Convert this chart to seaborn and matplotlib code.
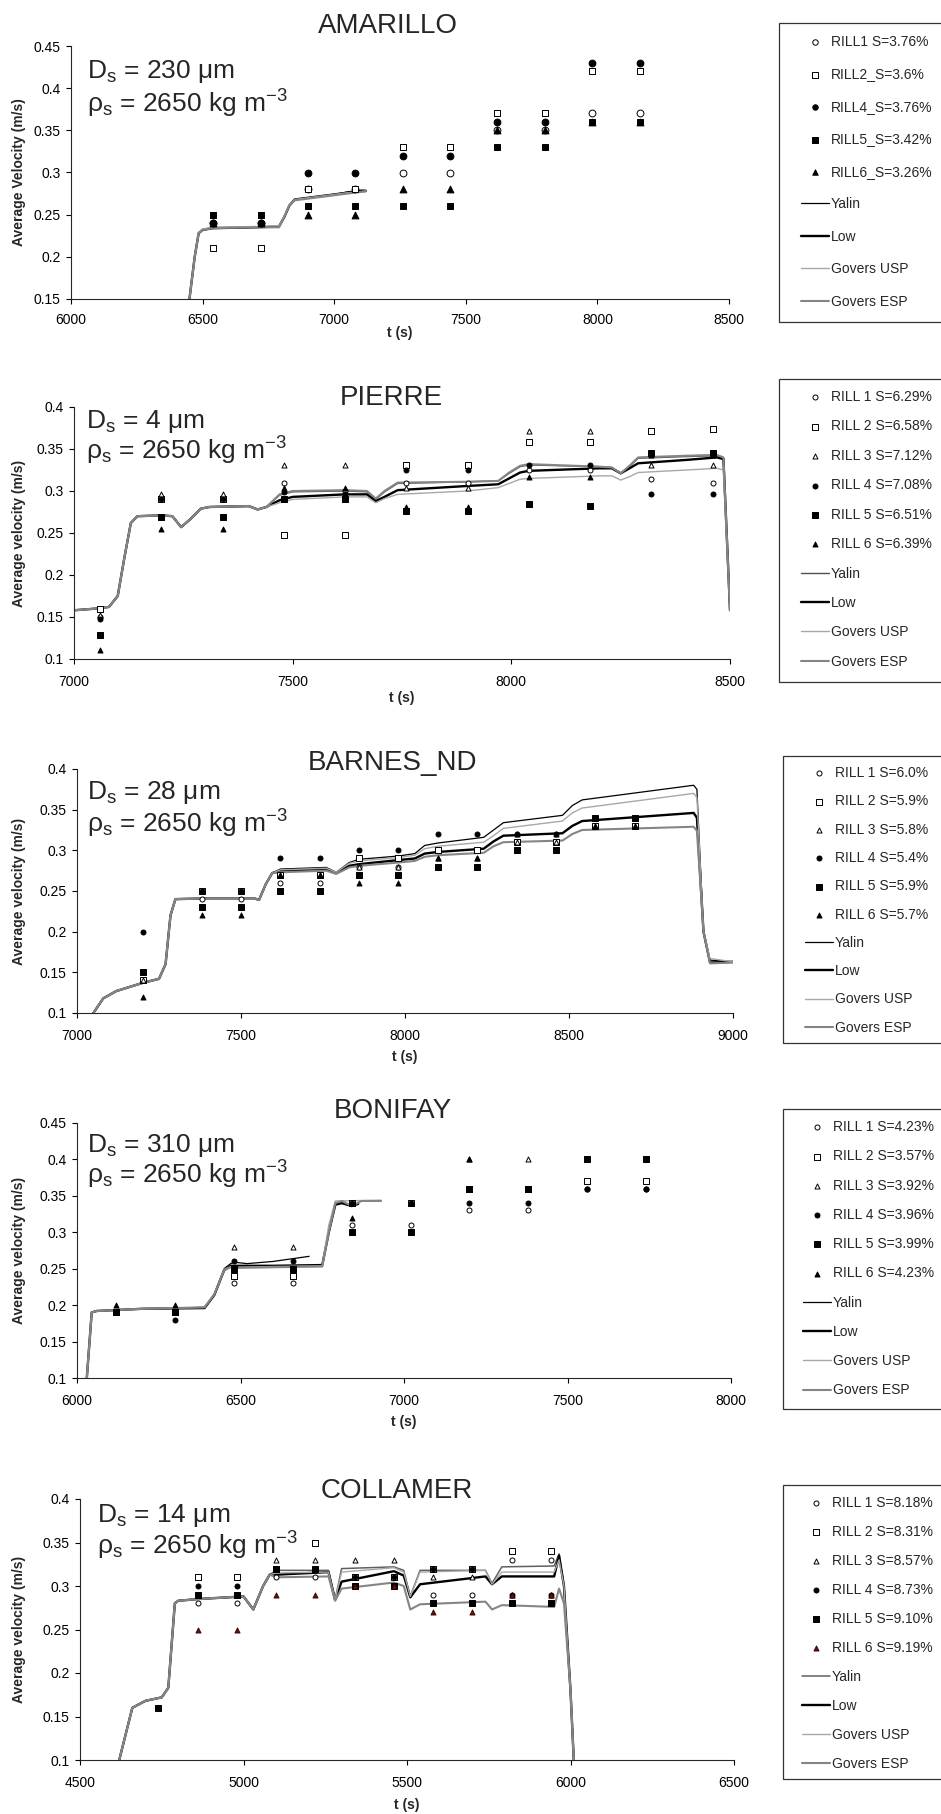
import numpy as np
import seaborn as sns
import matplotlib.pyplot as plt
from matplotlib import ticker
from matplotlib.patches import Rectangle

nan = np.nan

# ---------------- AMARILLO ----------------
am_t = [6540, 6720, 6900, 7080, 7260, 7440, 7620, 7800, 7980, 8160]
am_rill1 = [0.24, 0.24, 0.28, 0.28, 0.30, 0.30, 0.35, 0.35, 0.37, 0.37]
am_rill2 = [0.21, 0.21, 0.28, 0.28, 0.33, 0.33, 0.37, 0.37, 0.42, 0.42]
am_rill4 = [0.24, 0.24, 0.30, 0.30, 0.32, 0.32, 0.36, 0.36, 0.43, 0.43]
am_rill5 = [0.25, 0.25, 0.26, 0.26, 0.26, 0.26, 0.33, 0.33, 0.36, 0.36]
am_rill6 = [0.24, 0.24, 0.25, 0.25, 0.28, 0.28, 0.35, 0.35, 0.36, 0.36]
am_labels = ["RILL1 S=3.76%", "RILL2_S=3.6%", "RILL4_S=3.76%", "RILL5_S=3.42%", "RILL6_S=3.26%"]
am_ct = [6450, 6470, 6485, 6500, 6540, 6700, 6790, 6810, 6830, 6850, 6900, 6950, 7000, 7050, 7100, 7120]
am_yalin = [0.15, 0.20, 0.228, 0.232, 0.234, 0.235, 0.236, 0.247, 0.261, 0.268, 0.270, 0.272, 0.274, 0.277, 0.279, 0.279]
am_low = [0.15, 0.20, 0.228, 0.232, 0.234, 0.235, 0.236, 0.247, 0.261, 0.268, 0.270, 0.272, 0.274, 0.276, 0.278, 0.278]
am_usp = [0.15, 0.20, 0.229, 0.233, 0.235, 0.236, 0.237, 0.248, 0.262, 0.268, 0.270, 0.272, 0.274, 0.276, 0.277, 0.278]
am_esp = [0.15, 0.20, 0.228, 0.232, 0.234, 0.235, 0.235, 0.247, 0.261, 0.267, 0.269, 0.271, 0.273, 0.275, 0.277, 0.278]

# ---------------- PIERRE ----------------
pi_t = [7060, 7200, 7340, 7480, 7620, 7760, 7900, 8040, 8180, 8320, 8460]
pi_rill1 = [0.150, 0.292, 0.292, 0.310, 0.300, 0.310, 0.310, 0.325, 0.325, 0.314, 0.310]
pi_rill2 = [0.159, 0.290, 0.290, 0.248, 0.248, 0.331, 0.331, 0.358, 0.358, 0.372, 0.374]
pi_rill3 = [0.152, 0.297, 0.297, 0.331, 0.331, 0.303, 0.303, 0.371, 0.371, 0.331, 0.331]
pi_rill4 = [0.148, 0.290, 0.290, 0.299, 0.297, 0.325, 0.325, 0.331, 0.331, 0.297, 0.297]
pi_rill5 = [0.128, 0.269, 0.269, 0.290, 0.290, 0.276, 0.276, 0.284, 0.282, 0.345, 0.345]
pi_rill6 = [0.111, 0.255, 0.255, 0.303, 0.303, 0.281, 0.281, 0.317, 0.317, 0.343, 0.343]
pi_labels = ["RILL 1 S=6.29%", "RILL 2 S=6.58%", "RILL 3 S=7.12%", "RILL 4 S=7.08%", "RILL 5 S=6.51%", "RILL 6 S=6.39%"]
pi_ct = [7000, 7050, 7080, 7100, 7115, 7130, 7145, 7200, 7225, 7245, 7265, 7290, 7310, 7400, 7420, 7440,
         7470, 7500, 7620, 7670, 7690, 7710, 7740, 7900, 7970, 7995, 8020, 8040, 8200, 8230, 8250, 8270,
         8290, 8400, 8470, 8485, 8500]
pi_yalin = [0.158, 0.160, 0.162, 0.175, 0.220, 0.262, 0.270, 0.271, 0.270, 0.257, 0.266, 0.279, 0.281, 0.282, 0.278, 0.281,
            0.295, 0.299, 0.300, 0.299, 0.290, 0.299, 0.309, 0.311, 0.312, 0.321, 0.329, 0.331, 0.329, 0.328, 0.321, 0.329,
            0.339, 0.341, 0.342, 0.339, 0.158]
pi_low = [0.158, 0.160, 0.162, 0.175, 0.220, 0.262, 0.270, 0.271, 0.270, 0.257, 0.266, 0.279, 0.281, 0.282, 0.278, 0.281,
          0.289, 0.293, 0.296, 0.296, 0.288, 0.293, 0.301, 0.306, 0.308, 0.315, 0.322, 0.324, 0.327, 0.327, 0.321, 0.327,
          0.333, 0.337, 0.340, 0.338, 0.158]
pi_usp = [0.158, 0.160, 0.162, 0.175, 0.220, 0.262, 0.270, 0.271, 0.270, 0.257, 0.266, 0.279, 0.281, 0.282, 0.278, 0.281,
          0.286, 0.290, 0.293, 0.293, 0.286, 0.291, 0.296, 0.300, 0.304, 0.309, 0.314, 0.315, 0.318, 0.318, 0.313, 0.317,
          0.322, 0.325, 0.327, 0.325, 0.158]
pi_esp = [0.158, 0.160, 0.162, 0.175, 0.220, 0.262, 0.270, 0.271, 0.270, 0.257, 0.266, 0.279, 0.281, 0.282, 0.278, 0.281,
          0.296, 0.300, 0.301, 0.300, 0.291, 0.300, 0.310, 0.311, 0.312, 0.322, 0.330, 0.332, 0.329, 0.328, 0.321, 0.330,
          0.340, 0.342, 0.343, 0.340, 0.158]

# ---------------- BARNES_ND ----------------
ba_t = [7200, 7380, 7500, 7620, 7740, 7860, 7980, 8100, 8220, 8340, 8460, 8580, 8700]
ba_rill1 = [0.14, 0.24, 0.24, 0.26, 0.26, 0.28, 0.28, 0.30, 0.30, 0.31, 0.31, 0.33, 0.33]
ba_rill2 = [0.14, 0.25, 0.25, 0.27, 0.27, 0.29, 0.29, 0.30, 0.30, 0.31, 0.31, 0.33, 0.33]
ba_rill3 = [0.14, 0.25, 0.25, 0.27, 0.27, 0.28, 0.28, 0.29, 0.29, 0.31, 0.31, 0.33, 0.33]
ba_rill4 = [0.20, 0.25, 0.25, 0.29, 0.29, 0.30, 0.30, 0.32, 0.32, 0.32, 0.32, 0.34, 0.34]
ba_rill5 = [0.15, 0.23, 0.23, 0.25, 0.25, 0.27, 0.27, 0.28, 0.28, 0.30, 0.30, 0.34, 0.34]
ba_rill6 = [0.12, 0.22, 0.22, 0.27, 0.27, 0.26, 0.26, 0.29, 0.29, 0.32, 0.32, 0.33, 0.33]
ba_labels = ["RILL 1 S=6.0%", "RILL 2 S=5.9%", "RILL 3 S=5.8%", "RILL 4 S=5.4%", "RILL 5 S=5.9%", "RILL 6 S=5.7%"]
ba_ct = [7050, 7080, 7120, 7160, 7200, 7250, 7270, 7285, 7300, 7400, 7540, 7555, 7575, 7595,
         7620, 7760, 7790, 7830, 7860, 7980, 8030, 8060, 8100, 8240, 8270, 8300, 8480, 8510, 8540, 8880,
         8890, 8910, 8930, 9000]
ba_yalin = [0.100, 0.118, 0.127, 0.132, 0.137, 0.142, 0.160, 0.220, 0.240, 0.241, 0.241, 0.239, 0.258, 0.272,
            0.277, 0.279, 0.273, 0.285, 0.289, 0.293, 0.296, 0.306, 0.309, 0.316, 0.325, 0.334, 0.343, 0.355, 0.362, 0.380,
            0.375, 0.200, 0.165, 0.163]
ba_low = [0.100, 0.118, 0.127, 0.132, 0.137, 0.142, 0.160, 0.220, 0.240, 0.241, 0.241, 0.239, 0.258, 0.272,
          0.275, 0.277, 0.272, 0.281, 0.283, 0.288, 0.290, 0.296, 0.298, 0.302, 0.311, 0.318, 0.321, 0.330, 0.336, 0.346,
          0.340, 0.200, 0.162, 0.163]
ba_usp = [0.100, 0.118, 0.127, 0.132, 0.137, 0.142, 0.160, 0.220, 0.240, 0.241, 0.241, 0.239, 0.258, 0.272,
          0.276, 0.278, 0.273, 0.284, 0.287, 0.291, 0.294, 0.302, 0.305, 0.310, 0.318, 0.327, 0.336, 0.346, 0.352, 0.370,
          0.365, 0.200, 0.167, 0.163]
ba_esp = [0.100, 0.118, 0.127, 0.132, 0.137, 0.142, 0.160, 0.220, 0.240, 0.241, 0.241, 0.239, 0.258, 0.272,
          0.273, 0.275, 0.271, 0.279, 0.281, 0.285, 0.287, 0.292, 0.294, 0.297, 0.305, 0.310, 0.312, 0.320, 0.325, 0.329,
          0.324, 0.200, 0.161, 0.162]

# ---------------- BONIFAY ----------------
bo_t = [6120, 6300, 6480, 6660, 6840, 7020, 7200, 7380, 7560, 7740]
bo_rill1 = [0.19, 0.19, 0.23, 0.23, 0.31, 0.31, 0.33, 0.33, 0.36, 0.36]
bo_rill2 = [0.19, 0.19, 0.24, 0.24, 0.34, 0.34, 0.36, 0.36, 0.37, 0.37]
bo_rill3 = [0.19, 0.19, 0.28, 0.28, 0.34, 0.34, 0.40, 0.40, 0.40, 0.40]
bo_rill4 = [0.19, 0.18, 0.26, 0.26, 0.34, 0.34, 0.34, 0.34, 0.36, 0.36]
bo_rill5 = [0.19, 0.19, 0.25, 0.25, 0.30, 0.30, 0.36, 0.36, 0.40, 0.40]
bo_rill6 = [0.20, 0.20, 0.25, 0.25, 0.32, 0.34, 0.40, 0.36, 0.40, 0.40]
bo_labels = ["RILL 1 S=4.23%", "RILL 2 S=3.57%", "RILL 3 S=3.92%", "RILL 4 S=3.96%", "RILL 5 S=3.99%", "RILL 6 S=4.23%"]
bo_yalin_t = [6030, 6045, 6060, 6200, 6390, 6420, 6450, 6470, 6480, 6520, 6600, 6710]
bo_yalin = [0.10, 0.19, 0.192, 0.195, 0.197, 0.215, 0.250, 0.257, 0.259, 0.257, 0.260, 0.267]
bo_low_t = [6030, 6045, 6060, 6200, 6390, 6420, 6450, 6470, 6480, 6600, 6750, 6770, 6790, 6810, 6840, 6860]
bo_low = [0.10, 0.19, 0.192, 0.195, 0.196, 0.214, 0.248, 0.254, 0.254, 0.254, 0.255, 0.300, 0.338, 0.340, 0.336, 0.339]
bo_usp_t = [6030, 6045, 6060, 6200, 6390, 6420, 6450, 6470, 6480, 6600, 6750, 6770, 6790, 6930]
bo_usp = [0.10, 0.19, 0.192, 0.195, 0.197, 0.215, 0.249, 0.253, 0.252, 0.253, 0.254, 0.310, 0.343, 0.344]
bo_esp_t = [6030, 6045, 6060, 6200, 6390, 6420, 6450, 6470, 6480, 6600, 6750, 6770, 6790, 6810, 6840, 6870, 6930]
bo_esp = [0.10, 0.19, 0.192, 0.195, 0.197, 0.215, 0.248, 0.252, 0.251, 0.252, 0.253, 0.300, 0.340, 0.343, 0.336, 0.343, 0.343]

# ---------------- COLLAMER ----------------
co_t = [4740, 4860, 4980, 5100, 5220, 5340, 5460, 5580, 5700, 5820, 5940]
co_rill1 = [nan, 0.28, 0.28, 0.31, 0.31, 0.31, 0.31, 0.29, 0.29, 0.33, 0.33]
co_rill2 = [nan, 0.31, 0.31, 0.32, 0.35, 0.31, 0.31, 0.32, 0.32, 0.34, 0.34]
co_rill3 = [nan, 0.29, 0.29, 0.33, 0.33, 0.33, 0.33, 0.31, 0.31, 0.29, 0.29]
co_rill4 = [nan, 0.30, 0.30, 0.32, 0.32, 0.31, 0.31, 0.32, 0.32, 0.29, 0.29]
co_rill5 = [0.16, 0.29, 0.29, 0.32, 0.32, 0.30, 0.30, 0.28, 0.28, 0.28, 0.28]
co_rill6 = [nan, 0.25, 0.25, 0.29, 0.29, 0.30, 0.30, 0.27, 0.27, 0.29, 0.29]
co_labels = ["RILL 1 S=8.18%", "RILL 2 S=8.31%", "RILL 3 S=8.57%", "RILL 4 S=8.73%", "RILL 5 S=9.10%", "RILL 6 S=9.19%"]
co_ct = [4620, 4640, 4660, 4700, 4750, 4770, 4790, 4800, 4860, 5000, 5030, 5060, 5080,
         5100, 5260, 5280, 5300, 5460, 5490, 5510, 5540, 5740, 5760, 5790, 5950, 5965, 5980, 6000, 6010]
co_yalin = [0.100, 0.130, 0.160, 0.168, 0.172, 0.183, 0.280, 0.283, 0.285, 0.288, 0.273, 0.300, 0.313,
            0.318, 0.318, 0.284, 0.320, 0.322, 0.318, 0.288, 0.318, 0.318, 0.303, 0.322, 0.323, 0.337, 0.300, 0.180, 0.100]
co_low = [0.100, 0.130, 0.160, 0.168, 0.172, 0.183, 0.280, 0.283, 0.285, 0.288, 0.273, 0.300, 0.313,
          0.313, 0.316, 0.284, 0.305, 0.317, 0.312, 0.287, 0.302, 0.311, 0.302, 0.311, 0.311, 0.335, 0.300, 0.180, 0.100]
co_usp = [0.100, 0.130, 0.160, 0.168, 0.172, 0.183, 0.280, 0.283, 0.285, 0.288, 0.273, 0.300, 0.313,
          0.315, 0.316, 0.284, 0.316, 0.321, 0.316, 0.288, 0.316, 0.318, 0.302, 0.316, 0.316, 0.330, 0.300, 0.180, 0.100]
co_esp = [0.100, 0.130, 0.160, 0.168, 0.172, 0.183, 0.280, 0.283, 0.285, 0.288, 0.273, 0.300, 0.313,
          0.310, 0.311, 0.283, 0.297, 0.304, 0.300, 0.273, 0.279, 0.282, 0.273, 0.278, 0.276, 0.297, 0.280, 0.180, 0.100]

curve_labels = ["Yalin", "Low", "Govers USP", "Govers ESP"]

# style setup
sns.set_style("ticks")
plt.rcParams['font.family'] = ['Liberation Sans', 'DejaVu Sans']
plt.rcParams['mathtext.fontset'] = 'custom'
plt.rcParams['mathtext.rm'] = 'Liberation Sans'
plt.rcParams['mathtext.it'] = 'Liberation Sans:italic'
plt.rcParams['axes.linewidth'] = 0.8

W, H = 941, 1814
fig = plt.figure(figsize=(W / 100, H / 100), dpi=100)

# marker styles: (marker, face, edge)
open_c = ('o', 'white', 'black')
open_s = ('s', 'white', 'black')
open_t = ('^', 'white', 'black')
fill_c = ('o', 'black', 'black')
fill_s = ('s', 'black', 'black')
fill_t = ('^', 'black', 'black')
red_t = ('^', '#6b0f0f', '#3a0505')


def panel(box, xlim, xstep, ylim, title, title_x, title_y, ds, ds_xy, rho_y, ylabel,
          xlab_y, xpad, t, rills, styles, labels, curves, msize, leg, frame):
    left, right, top, bottom = box
    ax = fig.add_axes([left / W, 1 - bottom / H, (right - left) / W, (bottom - top) / H])

    # model curves
    for (ct, cv), lab, (col, lw) in zip(curves, curve_labels, leg['curve_styles']):
        sns.lineplot(x=ct, y=cv, color=col, lw=lw, label=lab, ax=ax,
                     estimator=None, sort=False, zorder=2)
    # measured rills
    for vals, lab, (mk, fc, ec) in zip(rills, labels, styles):
        sns.scatterplot(x=t, y=vals, marker=mk, s=msize, color=fc, edgecolor=ec,
                        linewidth=0.7, label=lab, ax=ax, zorder=3)

    ax.set_xlim(*xlim)
    ax.set_ylim(*ylim)
    ax.xaxis.set_major_locator(ticker.MultipleLocator(xstep))
    ax.yaxis.set_major_locator(ticker.MultipleLocator(0.05))
    ax.yaxis.set_major_formatter(ticker.FuncFormatter(lambda v, p: f"{v:.2f}".rstrip('0').rstrip('.')))
    ax.tick_params(direction='out', length=3.5, width=0.8, labelsize=10, pad=4, colors='black')
    ax.tick_params(axis='x', pad=xpad)
    sns.despine(ax=ax)
    ax.set_facecolor('none')

    ax.set_ylabel(ylabel, fontsize=10, fontweight='bold', va='center')
    ax.yaxis.set_label_coords((19 - left) / (right - left), 0.5)
    ax.set_xlabel("t (s)", fontsize=10, fontweight='bold', va='center')
    ax.xaxis.set_label_coords(0.5, -(xlab_y - bottom) / (bottom - top))

    fig.text(title_x / W, 1 - title_y / H, title, fontsize=20, ha='center', va='baseline')
    fig.text(ds_xy[0] / W, 1 - ds_xy[1] / H, r"D$_\mathregular{s}$ = " + ds + " μm",
             fontsize=19, ha='left', va='baseline')
    fig.text(ds_xy[0] / W, 1 - rho_y / H, r"ρ$_\mathregular{s}$ = 2650 kg m$^\mathregular{-3}$",
             fontsize=19, ha='left', va='baseline')

    # legend: rills first, then model curves
    handles, labs = ax.get_legend_handles_labels()
    order = list(range(4, len(handles))) + list(range(4))
    ax.legend([handles[i] for i in order], [labs[i] for i in order],
              loc='upper left', bbox_to_anchor=(leg['x'] / W, 1 - leg['y'] / H),
              bbox_transform=fig.transFigure, frameon=False, borderpad=0, borderaxespad=0,
              handlelength=2.0, handletextpad=0.15, labelspacing=leg['spacing'],
              fontsize=10, scatterpoints=1, markerscale=leg.get('mscale', 1.0))
    fl, ft, fb = frame
    fig.add_artist(Rectangle((fl / W, 1 - fb / H), (W + 20 - fl) / W, (fb - ft) / H,
                             transform=fig.transFigure, fill=False, ec='#333333', lw=0.9))
    return ax


std_curves = [('black', 0.9), ('black', 1.7), ('#a8a8a8', 1.0), ('#858585', 1.5)]

panel((71, 729, 46, 299), (6000, 8500), 500, (0.15, 0.45), "AMARILLO", 388, 33, "230", (87, 78), 113,
      "Average Velocity (m/s)", 333, 6.5, am_t,
      [am_rill1, am_rill2, am_rill4, am_rill5, am_rill6],
      [open_c, open_s, fill_c, fill_s, fill_t], am_labels,
      [(am_ct, am_yalin), (am_ct, am_low), (am_ct, am_usp), (am_ct, am_esp)], 24,
      dict(x=801, y=35, spacing=1.33, mscale=0.8, curve_styles=std_curves), (779, 23, 322))

panel((74, 730, 407, 659), (7000, 8500), 500, (0.1, 0.4), "PIERRE", 391, 405, "4", (86, 428), 460,
      "Average velocity (m/s)", 698, 8, pi_t,
      [pi_rill1, pi_rill2, pi_rill3, pi_rill4, pi_rill5, pi_rill6],
      [open_c, open_s, open_t, fill_c, fill_s, fill_t], pi_labels,
      [(pi_ct, pi_yalin), (pi_ct, pi_low), (pi_ct, pi_usp), (pi_ct, pi_esp)], 13,
      dict(x=801, y=390, spacing=1.11, curve_styles=[('#505050', 1.0), ('black', 1.7), ('#a8a8a8', 1.0), ('#858585', 1.5)]),
      (779, 379, 682))

panel((77, 733, 769, 1013), (7000, 9000), 500, (0.1, 0.4), "BARNES_ND", 393, 770, "28", (87, 799), 833,
      "Average velocity (m/s)", 1057, 8, ba_t,
      [ba_rill1, ba_rill2, ba_rill3, ba_rill4, ba_rill5, ba_rill6],
      [open_c, open_s, open_t, fill_c, fill_s, fill_t], ba_labels,
      [(ba_ct, ba_yalin), (ba_ct, ba_low), (ba_ct, ba_usp), (ba_ct, ba_esp)], 13,
      dict(x=805, y=766, spacing=1.03, curve_styles=std_curves), (783, 756, 1043))

panel((77, 731, 1123, 1378), (6000, 8000), 500, (0.1, 0.45), "BONIFAY", 393, 1118, "310", (87, 1152), 1184,
      "Average velocity (m/s)", 1422, 8, bo_t,
      [bo_rill1, bo_rill2, bo_rill3, bo_rill4, bo_rill5, bo_rill6],
      [open_c, open_s, open_t, fill_c, fill_s, fill_t], bo_labels,
      [(bo_yalin_t, bo_yalin), (bo_low_t, bo_low), (bo_usp_t, bo_usp), (bo_esp_t, bo_esp)], 13,
      dict(x=803, y=1120, spacing=1.10, curve_styles=std_curves), (783, 1109, 1409))

panel((80, 734, 1499, 1760), (4500, 6500), 500, (0.1, 0.4), "COLLAMER", 397, 1498, "14", (97, 1522), 1555,
      "Average velocity (m/s)", 1805, 8, co_t,
      [co_rill1, co_rill2, co_rill3, co_rill4, co_rill5, co_rill6],
      [open_c, open_s, open_t, fill_c, fill_s, red_t], co_labels,
      [(co_ct, co_yalin), (co_ct, co_low), (co_ct, co_usp), (co_ct, co_esp)], 13,
      dict(x=802, y=1496, spacing=1.08, curve_styles=[('#606060', 1.1), ('black', 1.7), ('#a8a8a8', 1.0), ('#858585', 1.5)]),
      (783, 1485, 1779))

fig.savefig("out.png", dpi=100, facecolor='white')
